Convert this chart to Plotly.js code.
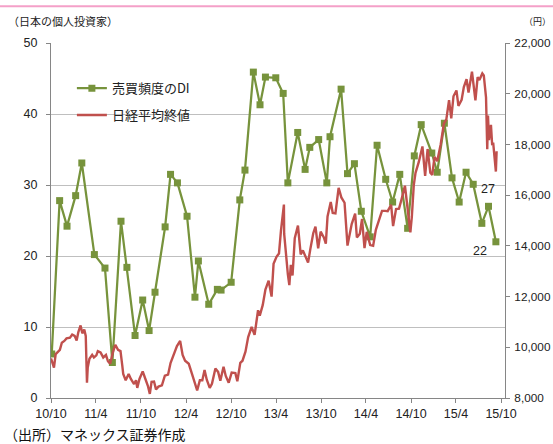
<!DOCTYPE html>
<html>
<head>
<meta charset="utf-8">
<script src="https://cdn.plot.ly/plotly-3.0.1.min.js"></script>
<style>
  html, body { margin: 0; padding: 0; background: #fff; }
  #chart { width: 553px; height: 444px; }
</style>
</head>
<body>
<div id="chart"></div>
<script>
// 売買頻度のDI (monthly survey)
const diDates = [
  '2010-10-23','2010-11-24','2010-12-24','2011-01-28','2011-02-22','2011-04-14',
  '2011-05-27','2011-06-26','2011-07-31','2011-08-24','2011-09-26','2011-10-27',
  '2011-11-22','2011-12-16','2012-01-26','2012-02-17','2012-03-16','2012-04-24',
  '2012-05-26','2012-06-09','2012-07-21','2012-08-25','2012-09-09','2012-10-20',
  '2012-11-24','2012-12-15','2013-01-18','2013-02-14','2013-03-08','2013-04-19',
  '2013-05-19','2013-06-07','2013-07-17','2013-08-16','2013-09-04','2013-10-10',
  '2013-11-12','2013-11-25','2014-01-09','2014-02-04','2014-03-04','2014-04-01',
  '2014-05-07','2014-06-04','2014-07-09','2014-08-06','2014-09-04','2014-10-06',
  '2014-11-02','2014-11-30','2015-01-12','2015-02-03','2015-03-04','2015-04-04',
  '2015-05-03','2015-05-31','2015-06-29','2015-08-03','2015-08-30','2015-09-29'
];
const diValues = [
  6.2, 27.8, 24.2, 28.5, 33.1, 20.2,
  18.3, 5.0, 24.9, 18.4, 8.8, 13.8,
  9.5, 14.9, 24.1, 31.5, 30.3, 25.6,
  14.2, 19.3, 13.2, 15.3, 15.2, 16.3,
  27.9, 32.1, 45.9, 41.3, 45.2, 45.1,
  42.9, 30.3, 37.4, 32.2, 35.3, 36.4,
  30.3, 36.8, 43.5, 31.6, 33.0, 26.3,
  22.7, 35.6, 30.8, 27.6, 31.5, 23.9,
  34.1, 38.5, 34.5, 31.8, 38.7, 31.0,
  27.6, 31.8, 30.1, 24.6, 27, 22
];

// 日経平均終値
const nkDates = [
  '2010-10-20','2010-10-26','2010-11-01','2010-11-08','2010-11-16','2010-11-25',
  '2010-12-03','2010-12-13','2010-12-22','2011-01-05','2011-01-14','2011-01-24',
  '2011-02-01','2011-02-08','2011-02-17','2011-02-24','2011-03-04','2011-03-10',
  '2011-03-15','2011-03-18','2011-03-25','2011-04-05','2011-04-12','2011-04-22',
  '2011-04-28','2011-05-09','2011-05-20','2011-05-31','2011-06-08','2011-06-17',
  '2011-06-28','2011-07-08','2011-07-19','2011-07-29','2011-08-05','2011-08-09',
  '2011-08-19','2011-08-31','2011-09-09','2011-09-22','2011-09-30','2011-10-05',
  '2011-10-14','2011-10-27','2011-11-07','2011-11-17','2011-11-25','2011-12-02',
  '2011-12-12','2011-12-20','2011-12-30','2012-01-13','2012-01-25','2012-02-07',
  '2012-02-17','2012-02-29','2012-03-14','2012-03-27','2012-04-06','2012-04-16',
  '2012-05-01','2012-05-14','2012-05-25','2012-06-04','2012-06-15','2012-06-25',
  '2012-07-04','2012-07-13','2012-07-25','2012-08-03','2012-08-17','2012-08-28',
  '2012-09-06','2012-09-19','2012-09-28','2012-10-10','2012-10-22','2012-11-06',
  '2012-11-14','2012-11-26','2012-12-05','2012-12-17','2012-12-28','2013-01-11',
  '2013-01-23','2013-02-06','2013-02-13','2013-02-25','2013-03-08','2013-03-21',
  '2013-04-02','2013-04-10','2013-04-22','2013-05-02','2013-05-10','2013-05-22',
  '2013-05-23','2013-05-30','2013-06-07','2013-06-13','2013-06-19','2013-06-26',
  '2013-07-05','2013-07-18','2013-07-29','2013-08-07','2013-08-28','2013-09-06',
  '2013-09-18','2013-09-27','2013-10-08','2013-10-18','2013-10-31','2013-11-08',
  '2013-11-15','2013-11-28','2013-12-06','2013-12-17','2013-12-30','2014-01-10',
  '2014-01-23','2014-02-04','2014-02-13','2014-02-21','2014-03-07','2014-03-14',
  '2014-03-26','2014-04-04','2014-04-14','2014-04-23','2014-05-07','2014-05-19',
  '2014-05-30','2014-06-13','2014-06-24','2014-07-07','2014-07-17','2014-07-31',
  '2014-08-08','2014-08-20','2014-09-01','2014-09-10','2014-09-25','2014-10-03',
  '2014-10-17','2014-10-23','2014-10-31','2014-11-07','2014-11-20','2014-12-05',
  '2014-12-16','2014-12-26','2015-01-06','2015-01-14','2015-01-23','2015-02-03',
  '2015-02-17','2015-03-02','2015-03-12','2015-03-23','2015-04-01','2015-04-10',
  '2015-04-22','2015-04-30','2015-05-13','2015-05-22','2015-06-02','2015-06-10',
  '2015-06-24','2015-07-08','2015-07-17','2015-07-24','2015-08-05','2015-08-11',
  '2015-08-20','2015-08-25','2015-08-28','2015-09-01','2015-09-09','2015-09-14',
  '2015-09-18','2015-09-29','2015-10-02'
];
const nkValues = [
  9560, 9400, 9200, 9730, 9800, 9900,
  10180, 10250, 10350, 10380, 10500, 10450,
  10270, 10600, 10860, 10550, 10700, 10450,
  8600, 9200, 9550, 9700, 9600, 9680,
  9850, 9800, 9600, 9700, 9450, 9350,
  9800, 10100, 9900, 9850, 9300, 8950,
  8700, 8950, 8750, 8550, 8700, 8400,
  8750, 9050, 8750, 8480, 8160, 8640,
  8650, 8340, 8450, 8500, 8880, 8920,
  9380, 9720, 10050, 10250, 9700, 9470,
  9350, 8950, 8600, 8300, 8700, 8700,
  9100, 8720, 8400, 8560, 9160, 9030,
  8680, 9230, 8870, 8600, 9000, 8980,
  8660, 9390, 9470, 9830, 10400, 10800,
  10490, 11460, 11250, 11660, 12280, 12630,
  12000, 13290, 13570, 13700, 14600, 15630,
  14480, 13600, 12880, 12450, 13250, 12830,
  14300, 14800, 13660, 13820, 13340, 13860,
  14500, 14760, 13900, 14560, 14330, 14090,
  15160, 15730, 15300, 15280, 16290, 15910,
  15700, 14010, 14530, 14860, 15270, 14330,
  14480, 15060, 13910, 14550, 14030, 14000,
  14630, 15100, 15380, 15380, 15370, 15620,
  14780, 15450, 15470, 15790, 16370, 15710,
  14530, 15140, 16410, 16880, 17300, 17920,
  16760, 17820, 16880, 16800, 17510, 17340,
  18000, 18820, 18990, 19750, 19030, 19900,
  20130, 19520, 19760, 20260, 20570, 20050,
  20870, 19740, 20650, 20540, 20800, 20720,
  19860, 17810, 19140, 18170, 18770, 17970,
  18070, 16930, 17730
];

// half-year ticks along the bottom
const tickDates = ['2010-10-20','2011-04-20','2011-10-20','2012-04-20','2012-10-20',
  '2013-04-20','2013-10-20','2014-04-20','2014-10-20','2015-04-20','2015-10-20'];
const tickLabels = ['10/10','11/4','11/10','12/4','12/10','13/4','13/10','14/4','14/10','15/4','15/10'];

const GREEN = '#77933C';
const RED = '#C0504D';
const AXIS = '#868686';
const GRID = '#BFBFBF';
const NUMFONT = 'Liberation Sans, Arial, sans-serif';
const JPFONT = 'Noto Sans CJK JP, sans-serif';

const last = diValues.length - 1;

const traces = [
  {
    x: diDates, y: diValues, name: '売買頻度のDI', legendgroup: 'di',
    type: 'scatter', mode: 'lines+markers', yaxis: 'y',
    line: { color: GREEN, width: 2.25 },
    marker: { symbol: 'square', size: 7, color: GREEN }
  },
  {
    x: nkDates, y: nkValues, name: '日経平均終値', legendgroup: 'nk',
    type: 'scatter', mode: 'lines', yaxis: 'y2',
    line: { color: RED, width: 2.4 }
  }
];

const layout = {
  width: 553, height: 444,
  margin: { l: 51, r: 48, t: 43, b: 46, pad: 0 },
  paper_bgcolor: '#fff', plot_bgcolor: '#fff',
  showlegend: true,
  legend: {
    x: 0.046, xanchor: 'left', y: 0.915, yanchor: 'top',
    bgcolor: 'rgba(0,0,0,0)', borderwidth: 0,
    font: { family: JPFONT, size: 13, color: '#222' },
    tracegroupgap: 7
  },
  xaxis: {
    type: 'date', range: ['2010-10-20', '2015-11-05'],
    tickmode: 'array', tickvals: tickDates, ticktext: tickLabels,
    showgrid: false, zeroline: false,
    showline: true, linecolor: AXIS, linewidth: 1,
    ticks: 'outside', ticklen: 4, tickcolor: AXIS,
    tickfont: { family: NUMFONT, size: 12.5, color: '#222' }
  },
  yaxis: {
    range: [0, 50], dtick: 10, tick0: 0,
    showgrid: true, gridcolor: GRID, gridwidth: 1, zeroline: false,
    showline: true, linecolor: AXIS, linewidth: 1,
    ticks: 'outside', ticklen: 4, tickcolor: AXIS,
    ticklabelstandoff: 6,
    tickfont: { family: NUMFONT, size: 12.5, color: '#222' }
  },
  yaxis2: {
    range: [8000, 22000], dtick: 2000, tick0: 8000,
    overlaying: 'y', side: 'right', tickformat: ',d',
    showgrid: false, zeroline: false,
    showline: true, linecolor: AXIS, linewidth: 1,
    ticks: 'outside', ticklen: 4, tickcolor: AXIS,
    ticklabelstandoff: 2,
    tickfont: { family: NUMFONT, size: 11.8, color: '#222' }
  },
  shapes: [
    { type: 'line', xref: 'paper', yref: 'paper',
      x0: -51 / 454, x1: 502 / 454, y0: 1.1034, y1: 1.1034,
      line: { color: '#F4A0C8', width: 2 } }
  ],
  annotations: [
    { xref: 'paper', yref: 'paper', x: -45 / 454, y: 1.061, xanchor: 'left', yanchor: 'middle',
      text: '（日本の個人投資家）', showarrow: false,
      font: { family: JPFONT, size: 11, color: '#222' } },
    { xref: 'paper', yref: 'paper', x: 486 / 454, y: 1.061, xanchor: 'center', yanchor: 'middle',
      text: '（円）', showarrow: false,
      font: { family: JPFONT, size: 9, color: '#222' } },
    { xref: 'paper', yref: 'paper', x: -49 / 454, y: -0.1, xanchor: 'left', yanchor: 'middle',
      text: '（出所）マネックス証券作成', showarrow: false,
      font: { family: JPFONT, size: 14, color: '#111' } },
    { x: diDates[last - 1], y: diValues[last - 1], xref: 'x', yref: 'y',
      text: String(diValues[last - 1]), showarrow: false, yshift: 17,
      font: { family: NUMFONT, size: 12.5, color: '#222' } },
    { x: diDates[last], y: diValues[last], xref: 'x', yref: 'y',
      text: String(diValues[last]), showarrow: false, xshift: -16, yshift: -9,
      font: { family: NUMFONT, size: 12.5, color: '#222' } }
  ]
};

Plotly.newPlot('chart', traces, layout, { displayModeBar: false, staticPlot: true });
</script>
</body>
</html>
